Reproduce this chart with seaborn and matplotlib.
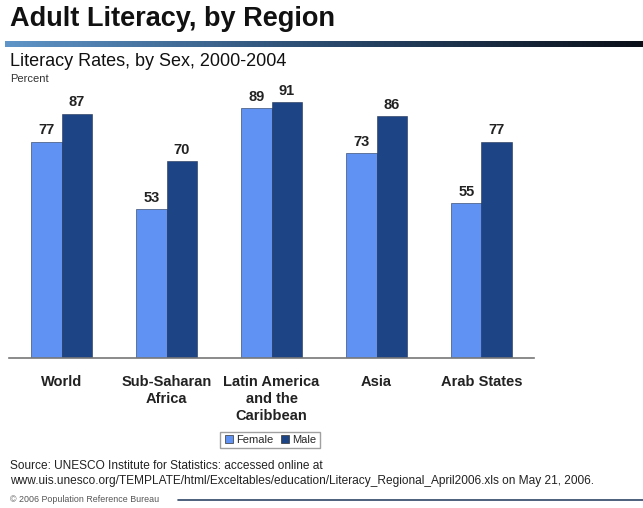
import numpy as np
import pandas as pd
import matplotlib
matplotlib.use("Agg")
import matplotlib.pyplot as plt
import seaborn as sns
from matplotlib.colors import LinearSegmentedColormap

regions = ["World", "Sub-Saharan\nAfrica", "Latin America\nand the\nCaribbean", "Asia", "Arab States"]
female = [77, 53, 89, 73, 55]
male = [87, 70, 91, 86, 77]
sexes = ["Female", "Male"]
colors = ["#5f92f2", "#1d4585"]

df = pd.DataFrame({
    "region": regions * 2,
    "sex": ["Female"] * len(regions) + ["Male"] * len(regions),
    "value": female + male,
})

sns.set_style("white")
plt.rcParams["font.family"] = ["Liberation Sans", "DejaVu Sans"]

fig = plt.figure(figsize=(6.43, 5.08), dpi=100)
ax = fig.add_axes([9 / 643, 1 - 358 / 508, (534 - 9) / 643, (358 - 77) / 508])

sns.barplot(data=df, x="region", y="value", hue="sex", palette=colors, saturation=1,
            width=0.58, edgecolor="#223355", linewidth=0.4, ax=ax, legend=False)
ax.set_ylim(0, 100)
ax.set_xlim(-0.5, len(regions) - 0.5)
for c in ax.containers:
    ax.bar_label(c, fmt="%d", padding=3, fontsize=10.5, fontweight="bold", color="#222222")

ax.set_xlabel("")
ax.set_ylabel("")
ax.set_yticks([])
ax.tick_params(axis="x", length=0, pad=12)
for lbl in ax.get_xticklabels():
    lbl.set_fontsize(10.5)
    lbl.set_fontweight("bold")
    lbl.set_color("#222222")
    lbl.set_linespacing(1.3)
for s in ["top", "left", "right"]:
    ax.spines[s].set_visible(False)
ax.spines["bottom"].set_color("#777777")
ax.spines["bottom"].set_linewidth(1.2)

# legend
handles = [plt.Line2D([], [], marker="s", linestyle="", markersize=6,
                      markerfacecolor=c, markeredgecolor="#333333", markeredgewidth=0.5)
           for c in colors]
fig.legend(handles, sexes, loc="center", bbox_to_anchor=(270 / 643, 1 - 440 / 508),
           ncol=2, fontsize=8, frameon=True, fancybox=False, edgecolor="#888888",
           handletextpad=0.1, columnspacing=0.6, borderpad=0.3, handlelength=1.0)

# header
fig.text(10 / 643, 1 - 19 / 508, "Adult Literacy, by Region", fontsize=19.5,
         fontweight="bold", va="center", ha="left", color="#111111")
gax = fig.add_axes([5 / 643, 1 - 47 / 508, 638 / 643, 6 / 508])
grad = np.linspace(0, 1, 256).reshape(1, -1)
cmap = LinearSegmentedColormap.from_list("hdr", ["#5f95c8", "#2a4a6e", "#0a0f18"])
gax.imshow(grad, aspect="auto", cmap=cmap)
gax.axis("off")
fig.text(10 / 643, 1 - 62 / 508, "Literacy Rates, by Sex, 2000-2004", fontsize=13,
         va="center", ha="left", color="#111111")
fig.text(10 / 643, 1 - 79 / 508, "Percent", fontsize=8, va="center", ha="left", color="#333333")

# source / footer
fig.text(10 / 643, 1 - 466 / 508, "Source: UNESCO Institute for Statistics: accessed online at",
         fontsize=8.6, va="center", ha="left", color="#222222")
fig.text(10 / 643, 1 - 481 / 508,
         "www.uis.unesco.org/TEMPLATE/html/Exceltables/education/Literacy_Regional_April2006.xls on May 21, 2006.",
         fontsize=8.6, va="center", ha="left", color="#222222")
fig.text(10 / 643, 1 - 500 / 508, "\u00a9 2006 Population Reference Bureau",
         fontsize=6.4, va="center", ha="left", color="#555555")
fig.add_artist(plt.Line2D([178 / 643, 1.0], [1 - 500 / 508] * 2, color="#2e4566", linewidth=1.2))

fig.savefig("out.png", dpi=100)
